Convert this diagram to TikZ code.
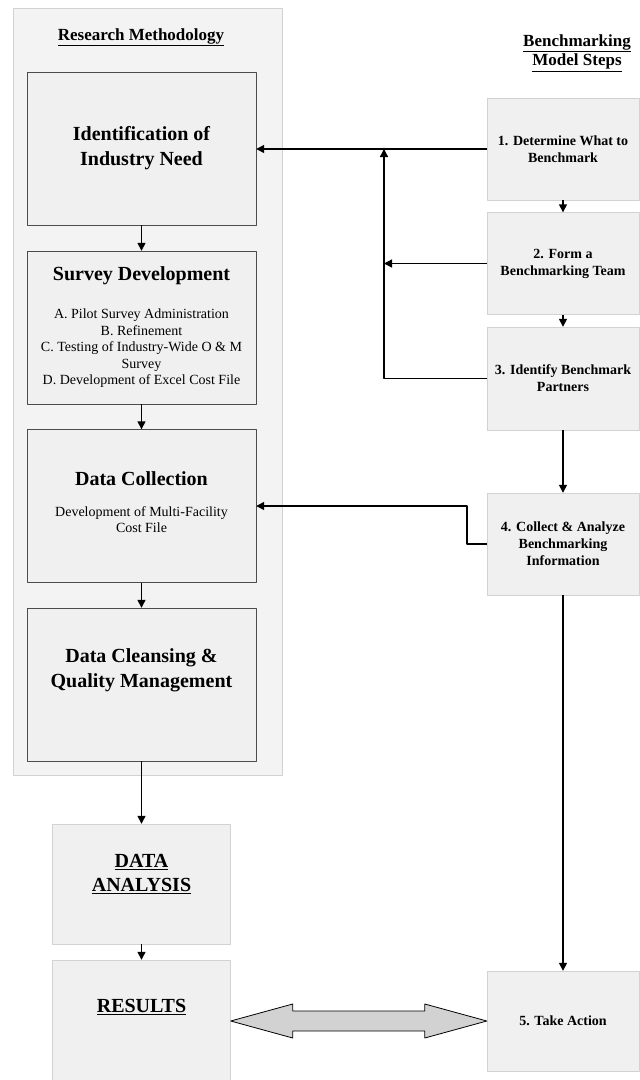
\documentclass[tikz,border=0pt]{standalone}
\usepackage{fontspec}
\setmainfont{Liberation Serif}
\usetikzlibrary{arrows.meta,calc}
\definecolor{boxgray}{HTML}{F0F0F0}
\definecolor{panelgray}{HTML}{F3F3F3}
\definecolor{arrowgray}{HTML}{D2D2D2}
\newcommand{\boxhead}[1]{{\fontsize{20}{25}\selectfont\bfseries #1}}
\tikzset{
  methodbox/.style={draw=black!70, fill=boxgray, minimum width=229pt, minimum height=153pt, inner sep=0pt, align=center, font=\fontsize{20}{25}\selectfont\bfseries},
  itembox/.style={methodbox, font=\fontsize{14}{16.5}\selectfont},
  stepbox/.style={draw=gray!35, fill=boxgray, minimum width=152pt, minimum height=102pt, inner sep=0pt, align=center, font=\fontsize{14}{17}\selectfont\bfseries},
  outbox/.style={draw=gray!35, fill=boxgray, minimum width=178pt, minimum height=120pt, inner sep=0pt, align=center, font=\fontsize{20}{24}\selectfont\bfseries},
  flow/.style={->, line width=1.4pt}
}
\begin{document}
\begin{tikzpicture}[x=1pt, y=-1pt, >={Triangle[length=8pt,width=8pt]}, line join=round]
  \useasboundingbox (0,0) rectangle (640,1080);
  % 1. Left panel holding the research methodology boxes
  \draw[draw=gray!35, fill=panelgray] (13,8) rectangle (282,775);
  \node[font=\fontsize{17}{20}\selectfont\bfseries] (rmhead) at (141,37) {\underline{Research Methodology}};
  \node[methodbox] (idn) at (141.5,148.5) {Identification of\\Industry Need};
  \node[itembox] (svy) at (141.5,327.5) {\boxhead{Survey Development}\\[21.5pt]
    A. Pilot Survey Administration\\
    B. Refinement\\
    C. Testing of Industry-Wide O \& M\\
    Survey\\
    D. Development of Excel Cost File};
  \node[itembox, text depth=8pt] (dcol) at (141.5,506) {\boxhead{Data Collection}\\[14.5pt]
    Development of Multi-Facility\\
    Cost File};
  \node[methodbox, text depth=32pt] (dcq) at (141.5,684.5) {Data Cleansing \&\\Quality Management};
  % 2. Boxes below the panel
  \node[outbox, text depth=22pt] (dan) at (141.5,884) {\underline{DATA}\\\underline{ANALYSIS}};
  \node[outbox, minimum height=122pt, text depth=31pt] (res) at (141.5,1021) {\underline{RESULTS}};
  % 3. Benchmarking model steps on the right
  \node[font=\fontsize{17}{19.5}\selectfont\bfseries, align=center] (bmhead) at (577,53) {\underline{Benchmarking}\\\underline{Model Steps}};
  \node[stepbox] (st1) at (563,149) {1. Determine What to\\Benchmark};
  \node[stepbox] (st2) at (563,263.5) {2. Form a\\Benchmarking Team};
  \node[stepbox, minimum height=103pt] (st3) at (563,378.5) {3. Identify Benchmark\\Partners};
  \node[stepbox] (st4) at (563,544) {4. Collect \& Analyze\\Benchmarking\\Information};
  \node[stepbox, minimum height=100pt] (st5) at (563,1021) {5. Take Action};
  % 4. Arrows down the left column
  \draw[flow] (idn.south) -- (svy.north);
  \draw[flow] (svy.south) -- (dcol.north);
  \draw[flow] (dcol.south) -- (dcq.north);
  \draw[flow] (dcq.south) -- (dan.north);
  \draw[flow] (dan.south) -- (res.north);
  % 5. Arrows down the right column
  \draw[flow] (st1.south) -- (st2.north);
  \draw[flow] (st2.south) -- (st3.north);
  \draw[flow] (st3.south) -- (st4.north);
  \draw[flow] (st4.south) -- (st5.north);
  % 6. Feedback lines from the steps into the methodology
  \coordinate (jn) at (384,149);
  \draw[flow] (st1.west) -- (st1.west -| idn.east);
  \draw[flow] (st3.west) -| (jn);
  \draw[flow] (st2.west) -- (st2.west -| jn);
  \draw[flow] (st4.west) -- ++(-20,0) |- (dcol.east);
  % 7. Two-way block arrow between results and action
  \draw[fill=arrowgray, line width=0.8pt] (res.east) -- ++(62,-17) -- ++(0,7)
    -- ($(st5.west)+(-62,-10)$) -- ++(0,-7) -- (st5.west) -- ++(-62,17) -- ++(0,-7)
    -- ($(res.east)+(62,10)$) -- ++(0,7) -- cycle;
\end{tikzpicture}
\end{document}
